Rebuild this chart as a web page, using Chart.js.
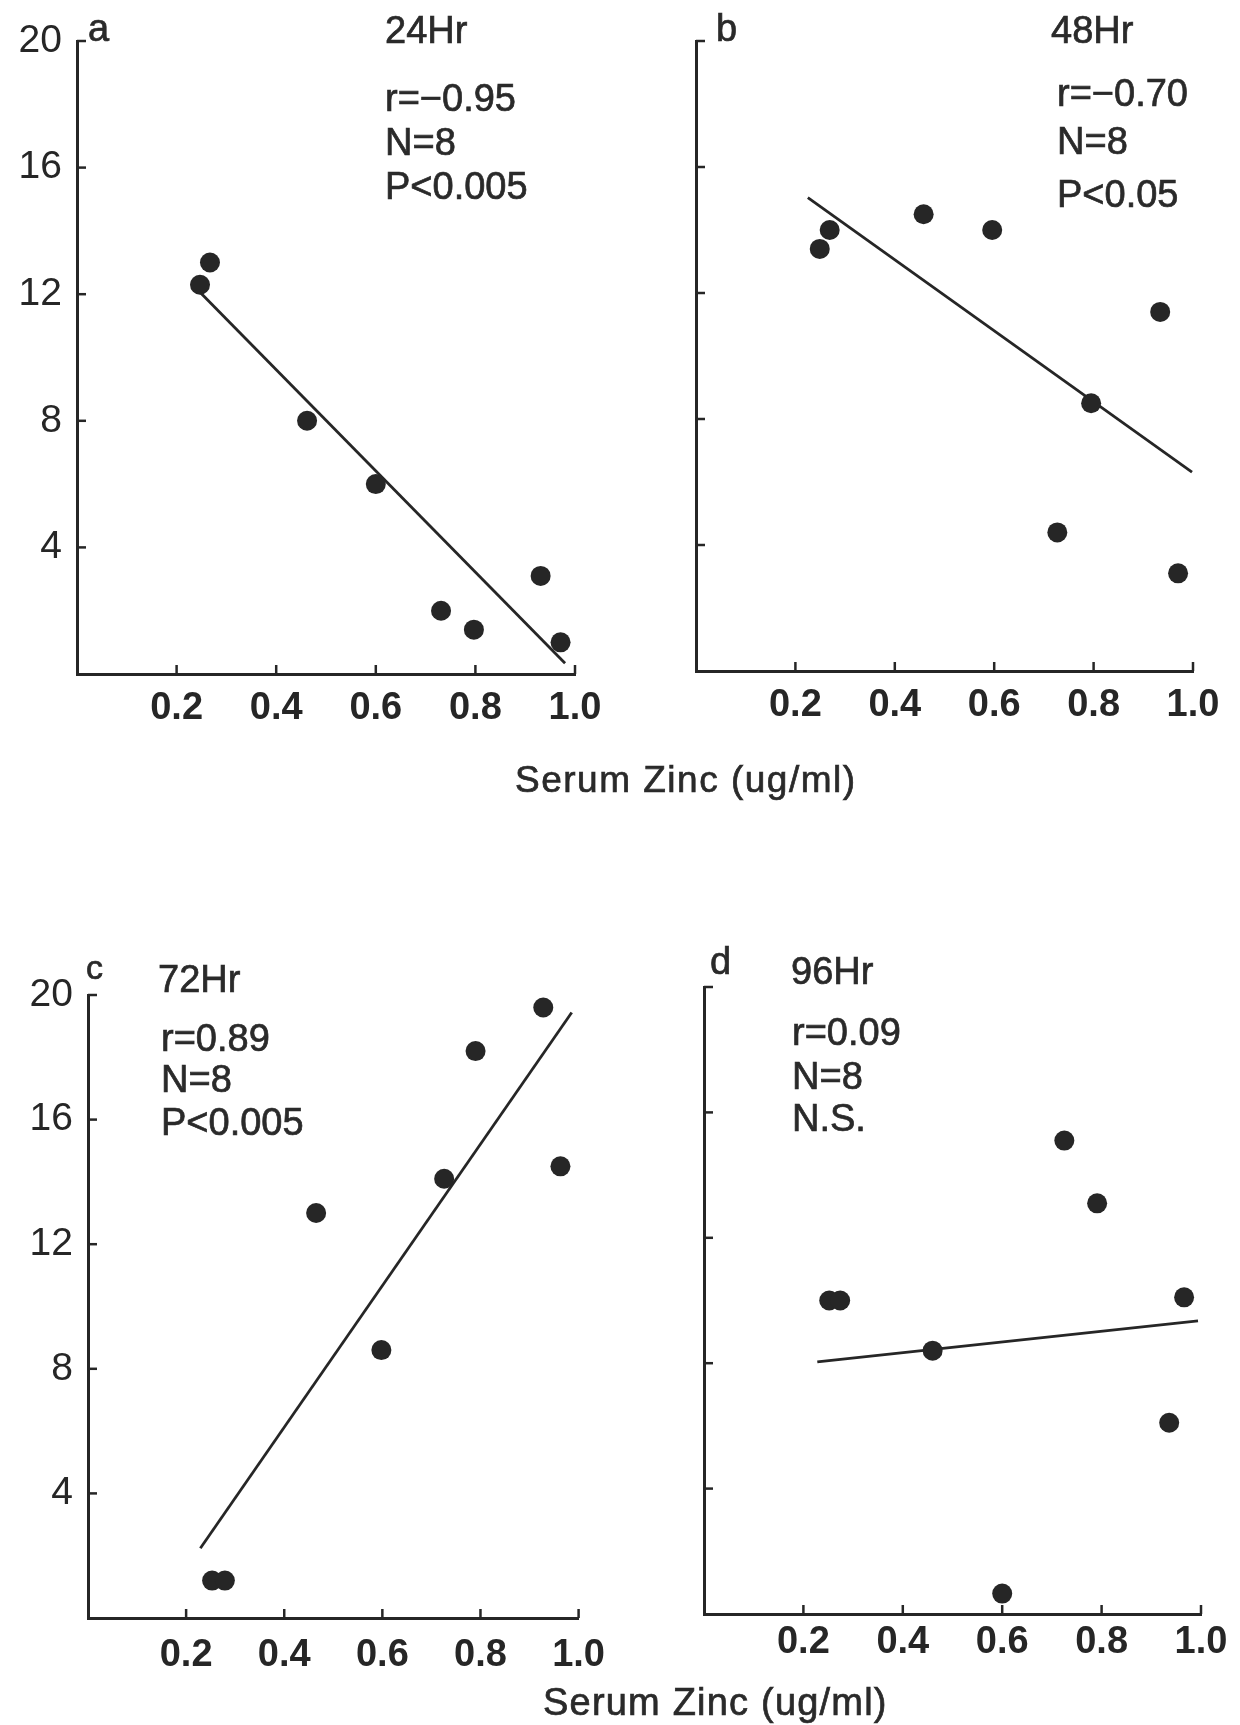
<!DOCTYPE html>
<html>
<head>
<meta charset="utf-8">
<script src="https://cdn.jsdelivr.net/npm/chart.js@4.4.1/dist/chart.umd.min.js"></script>
<style>
  html, body { margin:0; padding:0; background:#ffffff; }
  body { width:1240px; height:1725px; position:relative; overflow:hidden; font-family:"Liberation Sans", Arial, Helvetica, sans-serif; color:#2a2a2a; }
  canvas { position:absolute; }
  .t { position:absolute; white-space:nowrap; line-height:1; font-size:38px; color:#2a2a2a; -webkit-text-stroke:0.7px #2a2a2a; }
</style>
</head>
<body>
<canvas id="pa" width="620" height="760" style="left:0px;top:0px;width:620px;height:760px"></canvas>
<canvas id="pb" width="620" height="760" style="left:620px;top:0px;width:620px;height:760px"></canvas>
<canvas id="pc" width="620" height="825" style="left:0px;top:900px;width:620px;height:825px"></canvas>
<canvas id="pd" width="620" height="825" style="left:620px;top:900px;width:620px;height:825px"></canvas>
<div id="labels"></div>
<script>
// ---------- data ----------
const xTickValues = [0.2, 0.4, 0.6, 0.8, 1.0];
const yTickValues = [4, 8, 12, 16, 20];
const xTitle = "Serum Zinc (ug/ml)";

const zincA = [0.247, 0.267, 0.462, 0.600, 0.731, 0.797, 0.931, 0.971];
const valA  = [12.3, 13.0, 8.0, 6.0, 2.0, 1.4, 3.1, 1.0];
const fitXA = [0.247, 0.980];
const fitYA = [12.06, 0.34];
const textA = ["24Hr", "r=\u22120.95", "N=8", "P<0.005"];

const zincB = [0.249, 0.269, 0.458, 0.596, 0.727, 0.795, 0.934, 0.970];
const valB  = [13.4, 14.0, 14.5, 14.0, 4.4, 8.5, 11.4, 3.1];
const fitXB = [0.225, 0.998];
const fitYB = [15.03, 6.31];
const textB = ["48Hr", "r=\u22120.70", "N=8", "P<0.05"];

const zincC = [0.253, 0.279, 0.465, 0.598, 0.726, 0.790, 0.928, 0.963];
const valC  = [1.2, 1.2, 13.0, 8.6, 14.1, 18.2, 19.6, 14.5];
const fitXC = [0.229, 0.986];
const fitYC = [2.24, 19.44];
const textC = ["72Hr", "r=0.89", "N=8", "P<0.005"];

const zincD = [0.252, 0.274, 0.460, 0.600, 0.725, 0.791, 0.936, 0.966];
const valD  = [10.0, 10.0, 8.4, 0.65, 15.1, 13.1, 6.1, 10.1];
const fitXD = [0.228, 0.994];
const fitYD = [8.04, 9.35];
const textD = ["96Hr", "r=0.09", "N=8", "N.S."];

const panelLetters = ["a", "b", "c", "d"];

// ---------- styling / layout ----------
const INK = "#262626";
const FONT = "'Liberation Sans', Arial, Helvetica, sans-serif";

const inwardTicks = {
  id: 'inwardTicks',
  afterDraw(chart) {
    const {ctx, scales, chartArea: a} = chart;
    ctx.save();
    ctx.strokeStyle = INK;
    ctx.lineWidth = 2.5;
    scales.x.ticks.forEach(t => {
      if (t.value <= 0) return;
      const px = scales.x.getPixelForValue(t.value);
      ctx.beginPath(); ctx.moveTo(px, a.bottom); ctx.lineTo(px, a.bottom - 9); ctx.stroke();
    });
    scales.y.ticks.forEach(t => {
      if (t.value <= 0) return;
      const py = scales.y.getPixelForValue(t.value);
      ctx.beginPath(); ctx.moveTo(a.left, py); ctx.lineTo(a.left + 9, py); ctx.stroke();
    });
    ctx.restore();
  }
};

function makePanel(id, zinc, vals, fitX, fitY, opts) {
  const pts = zinc.map((x, i) => ({x: x, y: vals[i]}));
  const fit = fitX.map((x, i) => ({x: x, y: fitY[i]}));
  new Chart(document.getElementById(id), {
    type: 'scatter',
    data: {
      datasets: [
        { data: pts, pointRadius: 10, pointHoverRadius: 10, backgroundColor: INK, borderColor: INK, borderWidth: 0, showLine: false, clip: false },
        { data: fit, showLine: true, pointRadius: 0, borderColor: INK, borderWidth: 2.8, fill: false, clip: false }
      ]
    },
    options: {
      responsive: false,
      animation: false,
      events: [],
      layout: { autoPadding: false, padding: { left: 0, top: opts.top, right: opts.right, bottom: 0 } },
      plugins: { legend: { display: false }, tooltip: { enabled: false } },
      scales: {
        x: {
          type: 'linear', min: 0, max: 1.0,
          afterBuildTicks: s => { s.ticks = [0].concat(xTickValues).map(v => ({value: v})); },
          grid: { display: false, drawTicks: false },
          border: { display: true, color: INK, width: 3 },
          ticks: {
            padding: opts.xPad, color: INK, autoSkip: false, maxRotation: 0,
            font: { family: FONT, size: 38, weight: 'bold' },
            callback: v => (v > 0 ? v.toFixed(1) : '')
          },
          afterFit: s => { s.height = opts.xh; }
        },
        y: {
          type: 'linear', min: 0, max: 20,
          afterBuildTicks: s => { s.ticks = [0].concat(yTickValues).map(v => ({value: v})); },
          grid: { display: false, drawTicks: false },
          border: { display: true, color: INK, width: 3 },
          ticks: {
            padding: 15, color: INK, autoSkip: false,
            font: { family: FONT, size: 39 },
            callback: v => (opts.yLabels && v > 0 ? String(v) : '')
          },
          afterFit: s => { s.width = opts.yw; }
        }
      }
    },
    plugins: [inwardTicks]
  });
}

makePanel('pa', zincA, valA, fitXA, fitYA, { yw: 77, xh: 86, top: 41, right: 45, xPad: 12, yLabels: true });
makePanel('pb', zincB, valB, fitXB, fitYB, { yw: 76, xh: 89, top: 41, right: 47, xPad: 12, yLabels: false });
makePanel('pc', zincC, valC, fitXC, fitYC, { yw: 88, xh: 107, top: 95, right: 36, xPad: 15, yLabels: true });
makePanel('pd', zincD, valD, fitXD, fitYD, { yw: 84, xh: 111, top: 87, right: 39, xPad: 6, yLabels: false });

// ---------- annotations (real text) ----------
const holder = document.getElementById('labels');
function put(txt, left, baseline, size) {
  const d = document.createElement('div');
  d.className = 't';
  d.textContent = txt;
  const s = size || 38;
  d.style.fontSize = s + 'px';
  d.style.left = left + 'px';
  d.style.top = (baseline - 0.8465 * s) + 'px';
  holder.appendChild(d);
  return d;
}
function putBlock(lines, left, baselines) {
  lines.forEach((t, i) => put(t, i === 0 ? left[0] : left[1], baselines[i]));
}
put(panelLetters[0], 88, 41, 38);
putBlock(textA, [385, 385], [43.6, 111, 155, 199]);
put(panelLetters[1], 716, 41, 38);
putBlock(textB, [1051, 1057], [43.6, 106.6, 154, 207.5]);
put(panelLetters[2], 86, 979, 34);
putBlock(textC, [158, 161], [992, 1051, 1092, 1135]);
put(panelLetters[3], 710, 974, 38);
putBlock(textD, [791, 792], [984, 1044.7, 1089.4, 1131.5]);

const t1 = put(xTitle, 515, 792, 37); t1.style.letterSpacing = '1.5px';
const t2 = put(xTitle, 543, 1715, 38); t2.style.letterSpacing = '1.2px';
</script>
</body>
</html>
